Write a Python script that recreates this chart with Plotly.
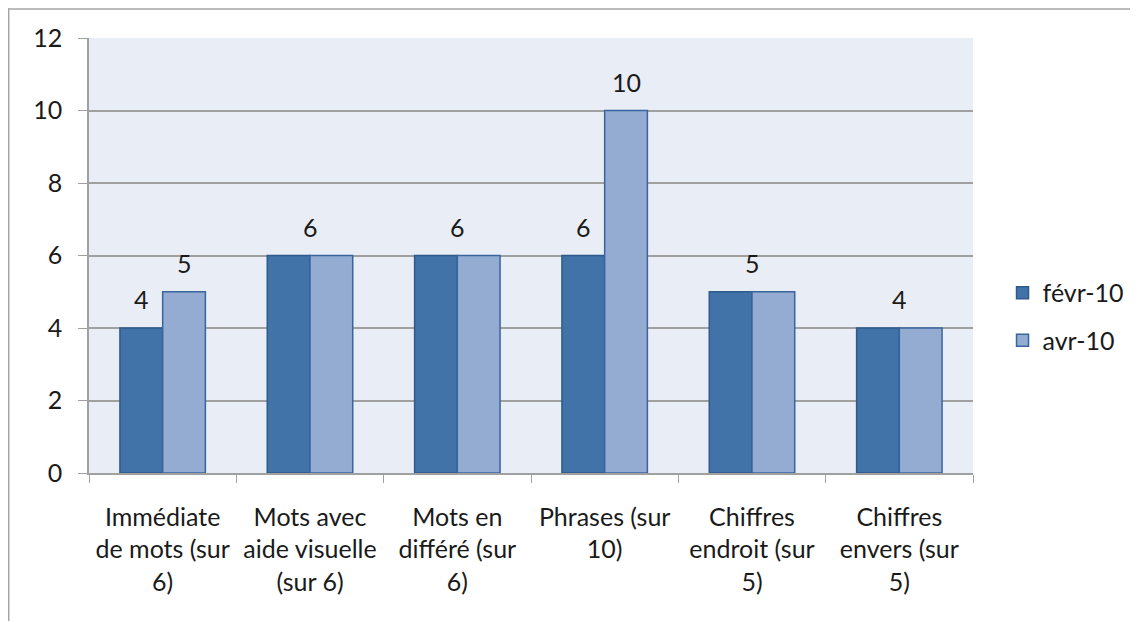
import plotly.graph_objects as go

categories = ["Immédiate<br>de mots (sur<br>6)", "Mots avec<br>aide visuelle<br>(sur 6)",
              "Mots en<br>différé (sur<br>6)", "Phrases (sur<br>10)",
              "Chiffres<br>endroit (sur<br>5)", "Chiffres<br>envers (sur<br>5)"]
series_names = ["févr-10", "avr-10"]
fevr_values = [4, 6, 6, 6, 5, 4]
avr_values = [5, 6, 6, 10, 5, 4]
y_ticks = [0, 2, 4, 6, 8, 10, 12]

FONT = "Lato"
FS = 25
fig = go.Figure()
fig.add_bar(x=categories, y=fevr_values, name=series_names[0], legendgroup="a",
            marker=dict(color="#4173A8", line=dict(color="#2E5A8C", width=1.5)))
fig.add_bar(x=categories, y=avr_values, name=series_names[1], legendgroup="b",
            marker=dict(color="#94ACD2", line=dict(color="#3A64A0", width=1.5)))

ann = []
for i, (a, b) in enumerate(zip(fevr_values, avr_values)):
    if a == b:
        ann.append(dict(x=i, y=a, text=str(a), xref="x", yref="y", showarrow=False,
                        yshift=29, font=dict(size=FS, color="#1a1a1a", family=FONT)))
    else:
        ann.append(dict(x=i - 0.145, y=a, text=str(a), xref="x", yref="y", showarrow=False,
                        yshift=29, font=dict(size=FS, color="#1a1a1a", family=FONT)))
        ann.append(dict(x=i + 0.145, y=b, text=str(b), xref="x", yref="y", showarrow=False,
                        yshift=29, font=dict(size=FS, color="#1a1a1a", family=FONT)))

fig.update_layout(
    width=1138, height=621,
    margin=dict(l=81, r=173, t=29.5, b=156, autoexpand=False),
    paper_bgcolor="white", plot_bgcolor="#E9EDF5",
    barmode="group", bargap=0.42, bargroupgap=0,
    font=dict(family=FONT, size=FS, color="#1a1a1a"),
    annotations=ann,
    legend=dict(x=0.0334 + 1, y=0.36, yanchor="middle", xanchor="left",
                font=dict(size=FS, family=FONT), tracegroupgap=12,
                traceorder="grouped", itemwidth=30),
    showlegend=True,
    shapes=[
        dict(type="line", xref="paper", yref="paper", x0=-0.0916, x1=1.3, y0=1.0665, y1=1.0665,
             line=dict(color="#A6A6A6", width=1.5)),
        dict(type="line", xref="paper", yref="paper", x0=-0.0908, x1=-0.0908, y0=1.0677, y1=-0.4,
             line=dict(color="#A6A6A6", width=1.5)),
    ],
)
fig.update_xaxes(type="category", tickson="boundaries", ticks="outside", ticklen=8,
                 tickcolor="#A0A0A0", showline=True, linecolor="#A0A0A0", linewidth=1.5,
                 showgrid=False, tickfont=dict(size=FS, family=FONT), ticklabelstandoff=21)
fig.update_yaxes(range=[0, 12], tickvals=y_ticks, ticks="outside", ticklen=9,
                 tickcolor="#A0A0A0", showline=True, linecolor="#A0A0A0", linewidth=1.5,
                 showgrid=True, gridcolor="#A0A0A0", gridwidth=1.5, zeroline=False,
                 tickfont=dict(size=FS, family=FONT), ticklabelstandoff=11)

fig.write_html("out.html")
